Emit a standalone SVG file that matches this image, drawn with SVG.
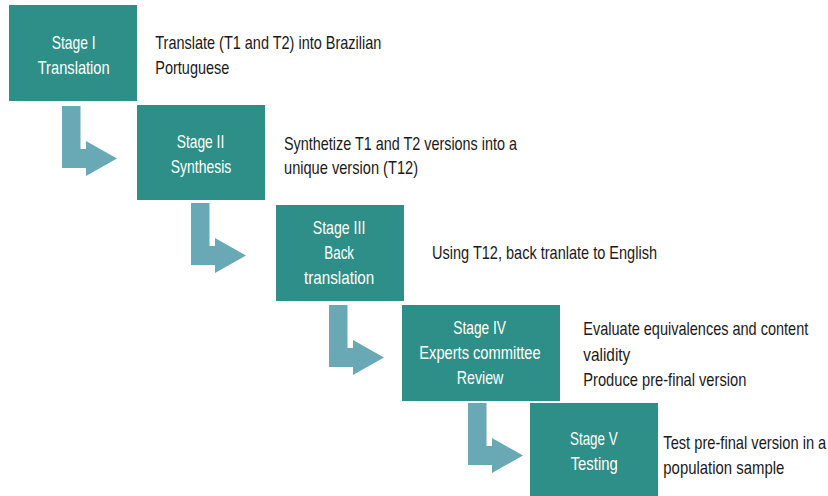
<svg xmlns="http://www.w3.org/2000/svg" width="828" height="496" viewBox="0 0 828 496">
<defs>
<style>
.box{fill:#2e8f88}
.arr{fill:#69a9b6}
.bt{font-family:"Liberation Sans",Arial,sans-serif;font-size:19px;fill:#ffffff}
.dt{font-family:"Liberation Sans",Arial,sans-serif;font-size:19px;fill:#1a1a1a}
</style>
<path id="arrowShape" d="M0,0 H18.5 V43 H24 V35 L55,52.5 L24,70 V62 H0 Z"/>
</defs>
<rect width="828" height="496" fill="#ffffff"/>
<g id="connectors">
<use href="#arrowShape" class="arr" x="62" y="106"/>
<use href="#arrowShape" class="arr" x="191" y="203"/>
<use href="#arrowShape" class="arr" x="329" y="305"/>
<use href="#arrowShape" class="arr" x="468" y="403"/>
</g>
<g id="stage1">
<rect class="box" x="9" y="5" width="128" height="96"/>
<text class="bt" x="51.7" y="49" textLength="44" lengthAdjust="spacingAndGlyphs">Stage I</text>
<text class="bt" x="37.7" y="73.5" textLength="72" lengthAdjust="spacingAndGlyphs">Translation</text>
</g>
<g id="desc1">
<text class="dt" x="155.3" y="49" textLength="226" lengthAdjust="spacingAndGlyphs">Translate (T1 and T2) into Brazilian</text>
<text class="dt" x="155.3" y="73.5" textLength="74" lengthAdjust="spacingAndGlyphs">Portuguese</text>
</g>
<g id="stage2">
<rect class="box" x="137" y="105" width="128" height="95"/>
<text class="bt" x="176.7" y="148" textLength="47.6" lengthAdjust="spacingAndGlyphs">Stage II</text>
<text class="bt" x="170.7" y="173" textLength="60.6" lengthAdjust="spacingAndGlyphs">Synthesis</text>
</g>
<g id="desc2">
<text class="dt" x="284" y="149.5" textLength="233" lengthAdjust="spacingAndGlyphs">Synthetize T1 and T2 versions into a</text>
<text class="dt" x="284" y="174" textLength="134" lengthAdjust="spacingAndGlyphs">unique version (T12)</text>
</g>
<g id="stage3">
<rect class="box" x="276" y="205" width="128" height="96"/>
<text class="bt" x="312.7" y="233.5" textLength="52.7" lengthAdjust="spacingAndGlyphs">Stage III</text>
<text class="bt" x="324.3" y="258.5" textLength="29.7" lengthAdjust="spacingAndGlyphs">Back</text>
<text class="bt" x="304" y="284.3" textLength="70.3" lengthAdjust="spacingAndGlyphs">translation</text>
</g>
<g id="desc3">
<text class="dt" x="432" y="258.5" textLength="225" lengthAdjust="spacingAndGlyphs">Using T12, back tranlate to English</text>
</g>
<g id="stage4">
<rect class="box" x="402" y="305" width="158" height="96"/>
<text class="bt" x="453.3" y="333.5" textLength="52.7" lengthAdjust="spacingAndGlyphs">Stage IV</text>
<text class="bt" x="419.3" y="358.5" textLength="121.3" lengthAdjust="spacingAndGlyphs">Experts committee</text>
<text class="bt" x="456.7" y="384.3" textLength="46.7" lengthAdjust="spacingAndGlyphs">Review</text>
</g>
<g id="desc4">
<text class="dt" transform="translate(583.3 335) scale(0.75 1)" x="0" y="0" textLength="300" lengthAdjust="spacingAndGlyphs">Evaluate equivalences and content</text>
<text class="dt" x="583.3" y="360.5" textLength="47" lengthAdjust="spacingAndGlyphs">validity</text>
<text class="dt" x="583.3" y="386" textLength="163" lengthAdjust="spacingAndGlyphs">Produce pre-final version</text>
</g>
<g id="stage5">
<rect class="box" x="530" y="403" width="128" height="93"/>
<text class="bt" x="570" y="445" textLength="47.7" lengthAdjust="spacingAndGlyphs">Stage V</text>
<text class="bt" x="570.7" y="470" textLength="47" lengthAdjust="spacingAndGlyphs">Testing</text>
</g>
<g id="desc5">
<text class="dt" transform="translate(663.3 449.3) scale(0.75 1)" x="0" y="0" textLength="217.3" lengthAdjust="spacingAndGlyphs">Test pre-final version in a</text>
<text class="dt" x="663.3" y="474" textLength="121" lengthAdjust="spacingAndGlyphs">population sample</text>
</g>
</svg>
